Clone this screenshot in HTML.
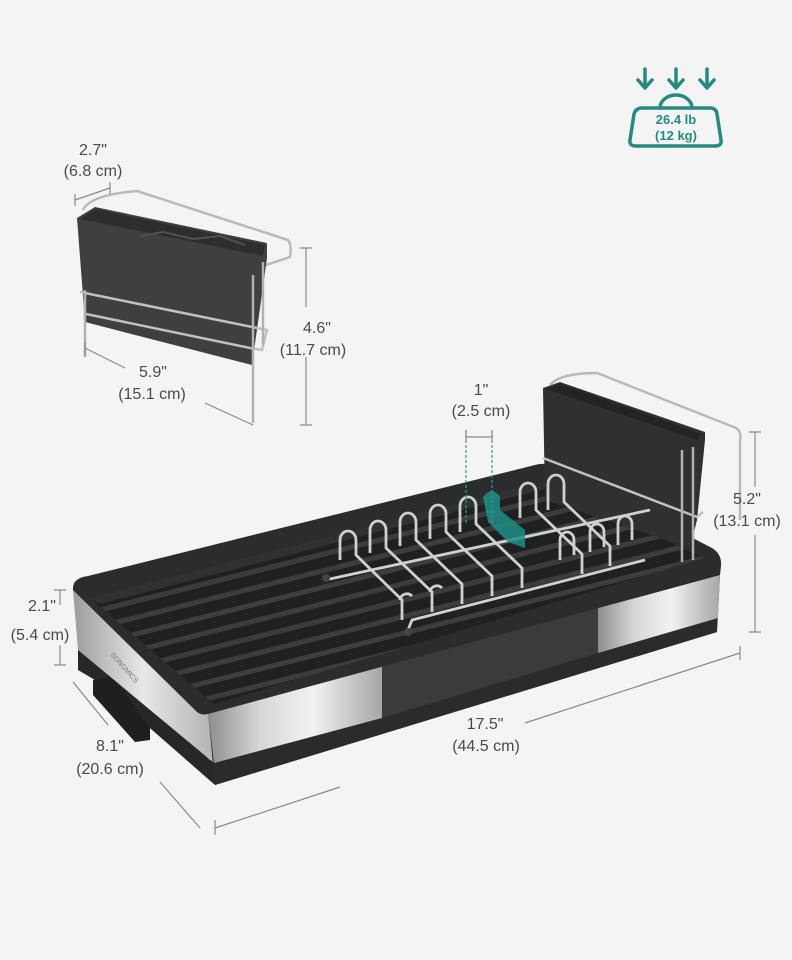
<!DOCTYPE html>
<html><head><meta charset="utf-8"><style>
html,body{margin:0;padding:0;background:#f4f4f4}
svg{display:block}
text{font-family:"Liberation Sans",sans-serif;font-size:16px;fill:#4a4a4a;text-anchor:middle}
</style></head><body>
<svg width="792" height="960" viewBox="0 0 792 960" xmlns="http://www.w3.org/2000/svg">
<defs>
<linearGradient id="steel" x1="0" y1="0" x2="1" y2="0">
<stop offset="0" stop-color="#8c8e90"/><stop offset="0.3" stop-color="#d6d7d8"/><stop offset="0.6" stop-color="#f2f2f2"/><stop offset="1" stop-color="#a4a6a8"/>
</linearGradient>
<linearGradient id="steel2" x1="0" y1="0" x2="1" y2="0">
<stop offset="0" stop-color="#9a9c9e"/><stop offset="0.5" stop-color="#e8e8e8"/><stop offset="1" stop-color="#b0b2b4"/>
</linearGradient>
<clipPath id="floor"><polygon points="90,598 540,482 704,558 214,704"/></clipPath>
</defs>
<rect width="792" height="960" fill="#f4f4f4"/>

<!-- weight icon -->
<g stroke="#268a82" stroke-width="3.5" fill="none" stroke-linecap="round" stroke-linejoin="round">
<path d="M645,69 V87 M638,80 L645,88 L652,80"/>
<path d="M676,69 V87 M669,80 L676,88 L683,80"/>
<path d="M707,69 V87 M700,80 L707,88 L714,80"/>
<path d="M660,108 A16,13 0 0 1 692,108"/>
<path d="M642,108 H710 Q716,108 717,114 L721,140 Q722,146 715,146 H636 Q629,146 630,140 L634,114 Q636,108 642,108 Z"/>
</g>
<text x="676" y="124" style="font-size:13px;font-weight:bold;fill:#268a82">26.4 lb</text>
<text x="676" y="140" style="font-size:13px;font-weight:bold;fill:#268a82">(12 kg)</text>

<!-- small holder -->
<g>
<path d="M83,210 Q90,195 137,191 L288,240 Q292,245 290,257 L260,267" fill="none" stroke="#b8b9ba" stroke-width="2.5"/>
<polygon points="77,218 95,207 267,243 267,258 252,365 85,322" fill="#3e3f41"/>
<polygon points="80,219 96,209 265,245 263,256" fill="#2c2d2f"/>
<path d="M140,236 L163,232 L193,239 M193,239 L220,236 L245,245" stroke="#505153" stroke-width="2" fill="none"/>
<path d="M80,292 L267,330 L262,350 L250,348 L86,314" fill="none" stroke="#c0c1c2" stroke-width="2.5"/>
<path d="M85,290 V357 M253,275 V423 M263,262 V345" stroke="#b0b1b2" stroke-width="2.5" fill="none"/>
</g>

<!-- small holder dims -->
<g stroke="#8a8a8a" stroke-width="1.2" fill="none">
<path d="M75,200 L110,188 M75,194 V206 M110,182 V194"/>
<path d="M85,348 L125,368 M205,403 L253,425 M85,342 V356"/>
<path d="M306,248 V307 M306,357 V425 M300,248 H312 M300,425 H312"/>
</g>
<text x="93" y="155">2.7"</text><text x="93" y="176">(6.8 cm)</text>
<text x="317" y="333">4.6"</text><text x="313" y="355">(11.7 cm)</text>
<text x="153" y="377">5.9"</text><text x="152" y="399">(15.1 cm)</text>

<!-- tray base -->
<polygon points="78,640 78,670 95,680 215,785 717,632 717,605 210,760 78,640" fill="#262729"/>
<polygon points="93,680 112,676 150,728 150,740 135,742 93,695" fill="#1e1f20"/>
<!-- left side silver -->
<polygon points="73,590 210,712 214,763 78,650" fill="url(#steel2)"/>
<!-- front face -->
<polygon points="208,712 720,575 717,632 215,785" fill="#2a2b2d"/>
<polygon points="382,666 598,608 598,653 382,718" fill="#3a3b3d"/>
<polygon points="208,712 382,666 382,718 214,763" fill="url(#steel)"/>
<polygon points="598,608 720,575 718,618 598,653" fill="url(#steel)"/>
<!-- rim / top -->
<path d="M73,590 Q72,578 88,576 L535,465 Q545,462 555,467 L712,548 Q722,554 721,566 L720,575 L208,714 Q200,716 195,710 Z" fill="#2b2c2e"/>
<!-- inner -->
<polygon points="90,598 540,482 704,558 214,704" fill="#1f2022"/>
<g clip-path="url(#floor)" stroke="#3b3c3e" stroke-width="5">
<path d="M60,620 L700,460 M70,634 L710,474 M80,648 L720,488 M90,662 L730,502 M100,676 L740,516 M110,690 L750,530 M120,704 L760,544 M130,718 L770,558 M140,732 L780,572 M60,606 L700,446 M150,746 L790,586"/>
</g>
<polygon points="90,598 540,482 548,488 100,604" fill="#303133"/>
<text x="0" y="0" transform="translate(110,655) rotate(48)" style="font-size:7px;fill:#777;text-anchor:start">SONGMICS</text>

<!-- holder on tray -->
<path d="M550,385 Q560,373 597,373 L736,428 Q742,432 740,440 V520" fill="none" stroke="#b8b9ba" stroke-width="2.5"/>
<polygon points="543,388 560,382 705,432 705,440 697,520 690,548 545,500" fill="#2f3032"/>
<polygon points="546,389 560,384 702,434 697,440" fill="#222325"/>
<path d="M543,458 L697,517 L703,512" fill="none" stroke="#c0c1c2" stroke-width="2.5"/>
<path d="M693,447 V560 M682,450 V562" stroke="#b0b1b2" stroke-width="2.5" fill="none"/>

<!-- rack -->
<g fill="none" stroke="#cfd0d1" stroke-width="2.8" stroke-linejoin="round">
<path d="M325,580 L650,510"/>
<path d="M408,630 L412,620 L645,560"/>
<path d="M340,560 V540 A8,9 0 0 1 356,540 V555 L402,600 V620"/>
<path d="M370,553 V530 A8,9 0 0 1 386,530 V548 L432,592 V612"/>
<path d="M400,546 V522 A8,9 0 0 1 416,522 V540 L462,584 V604"/>
<path d="M430,539 V514 A8,9 0 0 1 446,514 V532 L492,576 V596"/>
<path d="M460,532 V506 A8,9 0 0 1 476,506 V524 L522,568 V588"/>
<path d="M520,518 V492 A8,9 0 0 1 536,492 V510 L582,554 V574"/>
<path d="M548,510 V484 A8,9 0 0 1 564,484 V502 L610,546 V566"/>
<path d="M400,600 A7,7 0 0 1 412,596 M430,592 A7,7 0 0 1 442,588"/>
<path d="M560,560 V540 A7,8 0 0 1 574,540 V555 M590,552 V532 A7,8 0 0 1 604,532 V547 M618,545 V524 A7,8 0 0 1 632,524 V540"/>
</g>
<path d="M483,497 Q492,485 500,497 V510 L525,530 V548 L508,542 L488,522 Z" fill="#1f8f86" opacity="0.85"/>
<circle cx="326" cy="578" r="4" fill="#444"/><circle cx="408" cy="632" r="4" fill="#444"/>

<!-- tray dims -->
<g stroke="#8a8a8a" stroke-width="1.2" fill="none">
<path d="M466,430 V525 M492,430 V525" stroke="#3a9a90" stroke-dasharray="3,2"/>
<path d="M466,437 H492 M466,431 V443 M492,431 V443"/>
<path d="M755,432 V487 M755,535 V632 M749,432 H761 M749,632 H761"/>
<path d="M60,590 V605 M60,645 V665 M54,590 H66 M54,665 H66"/>
<path d="M73,682 L108,725 M160,782 L200,828"/>
<path d="M215,828 L340,787 M525,723 L740,653 M215,820 V835 M740,646 V660"/>
</g>
<text x="485" y="729">17.5"</text><text x="486" y="751">(44.5 cm)</text>
<text x="481" y="395">1"</text><text x="481" y="416">(2.5 cm)</text>
<text x="747" y="504">5.2"</text><text x="747" y="526">(13.1 cm)</text>
<text x="42" y="611">2.1"</text><text x="40" y="640">(5.4 cm)</text>
<text x="110" y="751">8.1"</text><text x="110" y="774">(20.6 cm)</text>
</svg>
</body></html>
